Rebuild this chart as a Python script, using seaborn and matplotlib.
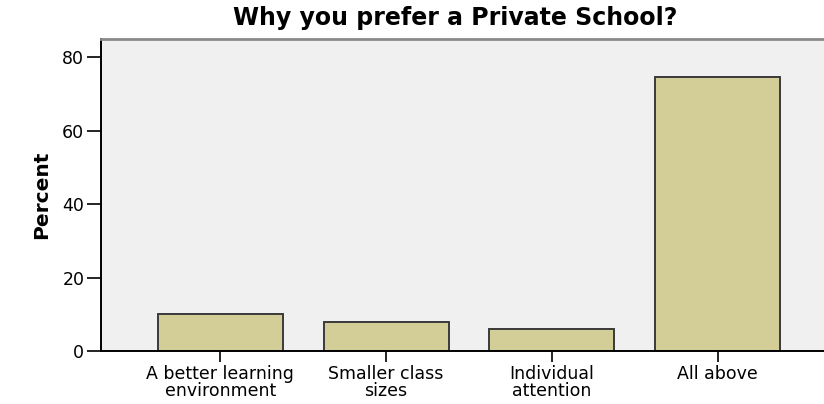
import pandas as pd
import seaborn as sns
import matplotlib.pyplot as plt

# values (percent)
reasons = ['A better learning\nenvironment', 'Smaller class\nsizes',
           'Individual\nattention', 'All above']
percent = [10.0, 8.0, 6.0, 74.6]
y_ticks = [0, 20, 40, 60, 80]

df = pd.DataFrame({'reason': reasons, 'percent': percent})

sns.set_style('white')
plt.rcParams['font.family'] = ['DejaVu Sans']
plt.rcParams['text.color'] = 'black'
plt.rcParams['axes.labelcolor'] = 'black'

fig = plt.figure(figsize=(8.24, 4.04), dpi=100)
ax = fig.add_axes([101 / 824, 53 / 404, 736 / 824, 312 / 404])
ax.set_facecolor('#f0f0f0')

sns.barplot(data=df, x='reason', y='percent', ax=ax, color='#d3cd97',
            saturation=1, width=0.754, edgecolor='#3a3a3a', linewidth=1.4)

ax.set_xlim(-0.72, 3.72)
ax.set_ylim(0, 85)
ax.set_yticks(y_ticks)
ax.tick_params(axis='y', direction='out', length=10, width=1.2,
               labelsize=12.5, color='black', labelcolor='black',
               left=True, pad=2)
ax.tick_params(axis='x', direction='out', length=8, width=1.2,
               labelsize=12.5, color='black', labelcolor='black',
               bottom=True, pad=2)
for lbl in ax.get_xticklabels():
    lbl.set_linespacing(0.95)

ax.set_xlabel('')
ax.set_ylabel('Percent', fontsize=14.5, fontweight='bold', labelpad=8)
fig.text(455 / 824, 1 - 18 / 404, 'Why you prefer a Private School?',
         fontsize=17, fontweight='bold', ha='center', va='center')

for side in ['left', 'bottom']:
    ax.spines[side].set_color('black')
    ax.spines[side].set_linewidth(1.4)
ax.spines['top'].set_color('#8a8a8a')
ax.spines['top'].set_linewidth(2)
ax.spines['right'].set_visible(False)

fig.savefig('out.png', dpi=100)
